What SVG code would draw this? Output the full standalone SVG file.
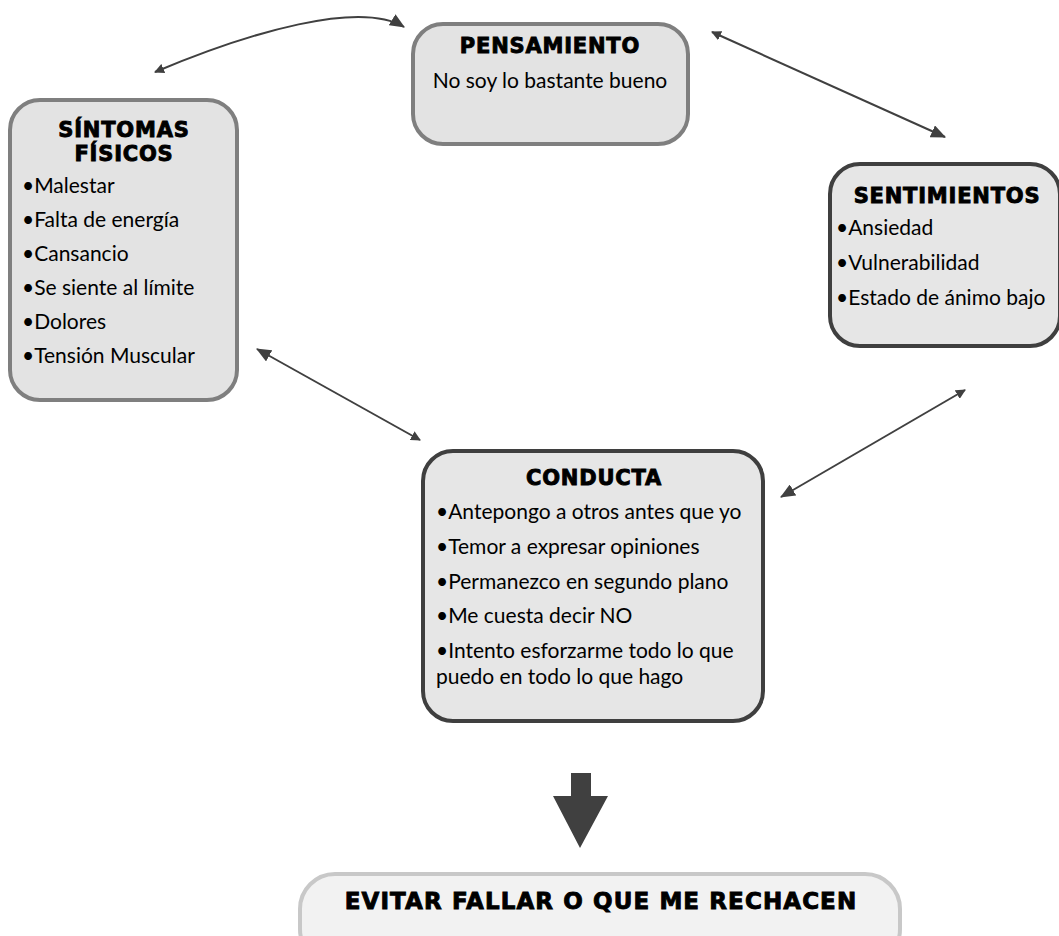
<svg xmlns="http://www.w3.org/2000/svg" width="1059" height="936" viewBox="0 0 1059 936">
<style>
.box1{fill:#e3e3e3;stroke:#7f7f7f;stroke-width:4}
.box2{fill:#e6e6e6;stroke:#3f3f3f;stroke-width:4}
.box3{fill:#f2f2f2;stroke:#c8c8c8;stroke-width:4}
.title{font-family:"DejaVu Sans","Liberation Sans",sans-serif;font-weight:bold;font-size:21px;letter-spacing:0.8px;fill:#000;stroke:#000;stroke-width:0.9;text-anchor:middle}
.body{font-family:"Lato","Liberation Sans",sans-serif;font-size:21px;fill:#000}
.conn{fill:none;stroke:#404040;stroke-width:2}
</style>
<defs>
<marker id="big" viewBox="0 0 14 12" refX="13" refY="6" markerWidth="15" markerHeight="13" markerUnits="userSpaceOnUse" orient="auto">
<path d="M0,0 L14,6 L0,12 z" fill="#404040"/>
</marker>
<marker id="small" viewBox="0 0 10 10" refX="9" refY="5" markerWidth="10" markerHeight="10" markerUnits="userSpaceOnUse" orient="auto-start-reverse">
<path d="M0,0 L10,5 L0,10 z" fill="#404040"/>
</marker>
</defs>
<rect width="1059" height="936" fill="#fff"/>
<g id="connectors">
<path class="conn" d="M155,72 C250,32 360,0 404,27" marker-start="url(#small)" marker-end="url(#big)"/>
<path class="conn" d="M712,32 L945,137" marker-start="url(#small)" marker-end="url(#big)"/>
<path class="conn" d="M965,390 L781,497" marker-start="url(#small)" marker-end="url(#big)"/>
<path class="conn" d="M420,440 L257,349" marker-start="url(#small)" marker-end="url(#big)"/>
<path d="M571,773 L591,773 L591,796 L608,796 L580,848 L553,796 L571,796 z" fill="#404040"/>
</g>
<g id="pensamiento">
<rect class="box1" x="413" y="24" width="275" height="120" rx="30"/>
<text class="title" x="550" y="53">PENSAMIENTO</text>
<text class="body" x="550" y="88" text-anchor="middle">No soy lo bastante bueno</text>
</g>
<g id="sintomas">
<rect class="box1" x="10" y="100" width="227" height="300" rx="30"/>
<text class="title" x="124" y="137">SÍNTOMAS</text>
<text class="title" x="124" y="161">FÍSICOS</text>
<text class="body" x="22" y="193">•Malestar</text>
<text class="body" x="22" y="227">•Falta de energía</text>
<text class="body" x="22" y="261">•Cansancio</text>
<text class="body" x="22" y="295">•Se siente al límite</text>
<text class="body" x="22" y="329">•Dolores</text>
<text class="body" x="22" y="363">•Tensión Muscular</text>
</g>
<g id="sentimientos">
<rect class="box2" x="830" y="164" width="230" height="182" rx="30"/>
<text class="title" x="947" y="203">SENTIMIENTOS</text>
<text class="body" x="836" y="235">•Ansiedad</text>
<text class="body" x="836" y="270">•Vulnerabilidad</text>
<text class="body" x="836" y="305">•Estado de ánimo bajo</text>
</g>
<g id="conducta">
<rect class="box2" x="423" y="451" width="340" height="270" rx="30"/>
<text class="title" x="594" y="485">CONDUCTA</text>
<text class="body" x="436" y="519">•Antepongo a otros antes que yo</text>
<text class="body" x="436" y="554">•Temor a expresar opiniones</text>
<text class="body" x="436" y="589">•Permanezco en segundo plano</text>
<text class="body" x="436" y="623">•Me cuesta decir NO</text>
<text class="body" x="436" y="658">•Intento esforzarme todo lo que</text>
<text class="body" x="436" y="684">puedo en todo lo que hago</text>
</g>
<g id="evitar">
<rect class="box3" x="300" y="874" width="600" height="90" rx="35"/>
<text class="title" x="601" y="909" style="font-size:23px;letter-spacing:1.1px">EVITAR FALLAR O QUE ME RECHACEN</text>
</g>
</svg>
